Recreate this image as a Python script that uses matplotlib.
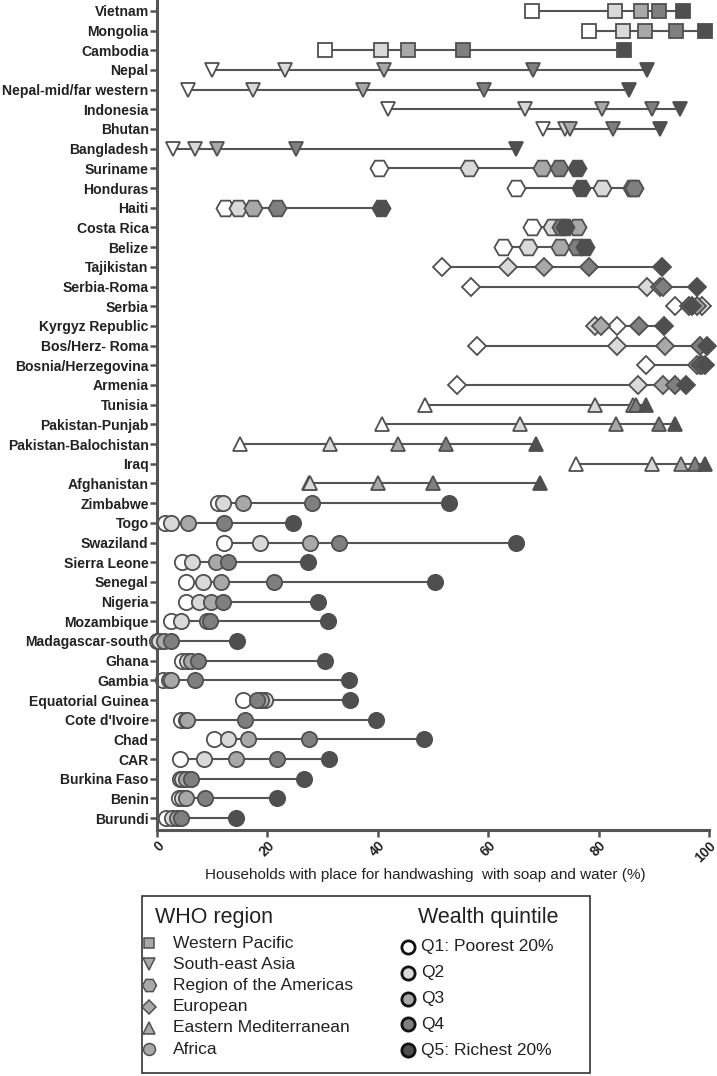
"""Handwashing facility coverage by wealth quintile, per country, grouped by WHO region."""
import matplotlib

matplotlib.use("Agg")
import matplotlib.pyplot as plt
from matplotlib import font_manager
from matplotlib.patches import Rectangle

plt.rcParams["font.family"] = ["Liberation Sans", "DejaVu Sans"]

countries = [
    "Vietnam", "Mongolia", "Cambodia",
    "Nepal", "Nepal-mid/far western", "Indonesia", "Bhutan", "Bangladesh",
    "Suriname", "Honduras", "Haiti", "Costa Rica", "Belize",
    "Tajikistan", "Serbia-Roma", "Serbia", "Kyrgyz Republic", "Bos/Herz- Roma",
    "Bosnia/Herzegovina", "Armenia",
    "Tunisia", "Pakistan-Punjab", "Pakistan-Balochistan", "Iraq", "Afghanistan",
    "Zimbabwe", "Togo", "Swaziland", "Sierra Leone", "Senegal", "Nigeria",
    "Mozambique", "Madagascar-south", "Ghana", "Gambia", "Equatorial Guinea",
    "Cote d'Ivoire", "Chad", "CAR", "Burkina Faso", "Benin", "Burundi",
]
region = (["WPR"] * 3 + ["SEAR"] * 5 + ["AMR"] * 5 + ["EUR"] * 7
          + ["EMR"] * 5 + ["AFR"] * 17)

# % of households, by wealth quintile (Q1 poorest .. Q5 richest)
q1 = [67.9, 78.2, 30.4, 9.9, 5.6, 41.9, 70.0, 2.9, 40.2, 65.1, 12.4, 68.0, 62.7,
      51.6, 56.8, 93.8, 83.4, 57.9, 88.5, 54.4, 48.5, 40.7, 15.1, 75.9, 27.5,
      11.0, 1.5, 12.2, 4.6, 5.2, 5.2, 2.5, 0.0, 4.6, 1.1, 15.6, 4.4, 10.4, 4.1,
      4.1, 4.0, 1.7]
q2 = [83.0, 84.5, 40.5, 23.2, 17.4, 66.6, 74.0, 6.9, 56.6, 80.6, 14.7, 71.5, 67.2,
      63.5, 88.8, 98.8, 79.3, 83.4, 97.8, 87.1, 79.3, 65.7, 31.3, 89.6, 27.8,
      11.9, 2.5, 18.7, 6.4, 8.3, 7.6, 4.4, 0.4, 5.4, 2.2, 19.6, 5.2, 12.9, 8.5,
      4.6, 4.6, 2.7]
q3 = [87.6, 88.4, 45.5, 41.1, 37.3, 80.7, 74.9, 10.9, 69.7, 86.0, 17.4, 76.0, 73.0,
      70.1, 91.1, 97.8, 80.5, 92.1, 98.3, 91.7, 86.3, 83.2, 43.7, 94.9, 40.1,
      15.5, 5.6, 27.8, 10.6, 11.6, 9.8, 9.1, 1.2, 6.2, 2.5, 18.8, 5.5, 16.4, 14.3,
      5.2, 5.2, 3.6]
q4 = [91.0, 94.0, 55.4, 68.2, 59.3, 89.6, 82.6, 25.1, 72.9, 86.5, 21.8, 73.2, 76.1,
      78.2, 91.6, 96.4, 87.3, 98.3, 98.8, 93.8, 86.7, 91.0, 52.3, 97.5, 50.0,
      28.1, 12.2, 32.9, 12.9, 21.2, 12.0, 9.6, 2.5, 7.5, 6.8, 18.1, 15.9, 27.6, 21.7,
      6.2, 8.7, 4.4]
q5 = [95.2, 99.2, 84.6, 88.8, 85.5, 94.8, 91.1, 65.0, 76.1, 76.8, 40.5, 74.0, 77.6,
      91.5, 97.9, 96.9, 91.9, 99.6, 99.2, 95.9, 88.5, 93.8, 68.6, 99.2, 69.3,
      52.9, 24.7, 65.1, 27.4, 50.4, 29.1, 30.9, 14.5, 30.5, 34.7, 35.0, 39.7, 48.4, 31.1,
      26.7, 21.8, 14.4]

region_names = ["Western Pacific", "South-east Asia", "Region of the Americas",
                "European", "Eastern Mediterranean", "Africa"]
region_codes = ["WPR", "SEAR", "AMR", "EUR", "EMR", "AFR"]
quintile_names = ["Q1: Poorest 20%", "Q2", "Q3", "Q4", "Q5: Richest 20%"]

MARKERS = {"WPR": ("s", 10), "SEAR": ("v", 10.5), "AMR": ("H", 13),
           "EUR": ("D", 9.2), "EMR": ("^", 10.5), "AFR": ("o", 11)}
FILLS = ["#ffffff", "#d9d9d9", "#a8a8a8", "#7f7f7f", "#4f4f4f"]
EDGE = "#505050"
AXC = "#555555"

# country labels are set in a condensed bold face in the original
installed = {f.name for f in font_manager.fontManager.ttflist}
if "Liberation Sans Narrow" in installed:
    label_font = dict(family=["Liberation Sans Narrow", "Liberation Sans"], fontsize=10.5)
else:
    label_font = dict(family=["Liberation Sans", "DejaVu Sans"], fontsize=10.1)

fig = plt.figure(figsize=(7.17, 10.76), dpi=100)
ax = fig.add_axes([157 / 717, 1 - 830 / 1076, 552 / 717, 830 / 1076])

quint = [q1, q2, q3, q4, q5]
for i, (name, reg) in enumerate(zip(countries, region)):
    vals = [q[i] for q in quint]
    ax.plot([min(vals), max(vals)], [i, i], color=AXC, lw=1.5, zorder=1,
            solid_capstyle="butt")
    mk, ms = MARKERS[reg]
    for k, v in enumerate(vals):
        ax.plot(v, i, marker=mk, ms=ms, mfc=FILLS[k], mec=EDGE, mew=1.3,
                ls="none", zorder=2 + k, clip_on=False)

ax.set_xlim(0, 100)
ax.set_ylim(len(countries) - 0.4, -0.55)
ax.set_yticks(range(len(countries)))
ax.set_yticklabels(countries, fontweight="bold", color="#222222", **label_font)
ax.set_xticks([0, 20, 40, 60, 80, 100])
ax.set_xticklabels(["0", "20", "40", "60", "80", "100"], rotation=45,
                   fontsize=10, fontweight="bold", color="#222222",
                   ha="right", va="top", rotation_mode="anchor")
ax.tick_params(axis="both", colors=AXC, width=1.8, length=5, labelcolor="#222222")
ax.tick_params(axis="y", pad=1)
ax.tick_params(axis="x", pad=1)
for side in ("top", "right"):
    ax.spines[side].set_visible(False)
for side in ("left", "bottom"):
    ax.spines[side].set_color(AXC)
    ax.spines[side].set_linewidth(2.2)
ax.set_xlabel("Households with place for handwashing  with soap and water (%)",
              fontsize=11, color="#222222")
ax.xaxis.set_label_coords((425 - 157) / 552, -(868 - 830) / 830)

# legend panel, laid out in pixel units
lax = fig.add_axes([141 / 717, 1 - 1073 / 1076, 449 / 717, 178 / 1076])
lax.set_xlim(141, 590)
lax.set_ylim(1073, 895)
lax.axis("off")
lax.add_patch(Rectangle((141.5, 895.5), 448, 177, fill=False, ec="#333333", lw=1.2,
                        clip_on=False))
lax.text(155, 917, "WHO region", fontsize=15.5, va="center", ha="left", color="#222222")
for j, (nm, code) in enumerate(zip(region_names, region_codes)):
    y = 943 + j * 21.2
    mk, ms = MARKERS[code]
    lax.plot(149, y, marker=mk, ms=ms * 0.78, mfc="#a8a8a8", mec=EDGE, mew=1.1,
             ls="none", clip_on=False)
    lax.text(173, y, nm, fontsize=12.5, va="center", ha="left", color="#222222")

lax.text(418, 917, "Wealth quintile", fontsize=15.5, va="center", ha="left",
         color="#222222")
for k, nm in enumerate(quintile_names):
    y = 947 + k * 25.8
    lax.plot(408, y, marker="o", ms=9.5, mfc=FILLS[k], mec="#111111", mew=2,
             ls="none", clip_on=False)
    lax.text(421, y, nm, fontsize=12.5, va="center", ha="left", color="#222222")

fig.savefig("out.png", dpi=100)
